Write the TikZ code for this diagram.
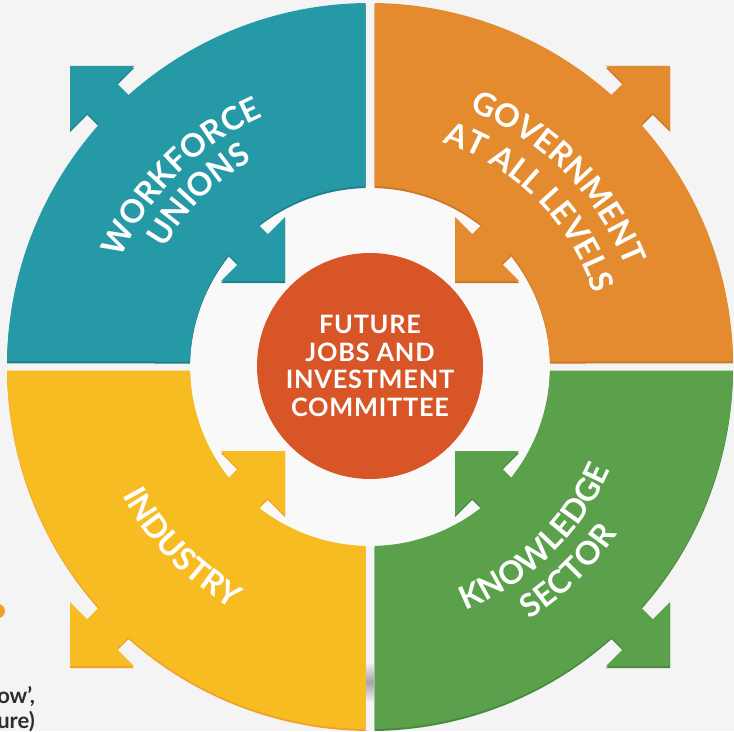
\documentclass[tikz,border=0pt]{standalone}
\usepackage{fontspec}
\setmainfont{Lato}
\usetikzlibrary{decorations.text}

\definecolor{pagegrey}{RGB}{244,244,244}
\definecolor{ringwhite}{RGB}{249,249,249}
\definecolor{unionteal}{RGB}{38,153,166}
\definecolor{unionedge}{RGB}{30,128,139}
\definecolor{govorange}{RGB}{227,139,46}
\definecolor{govedge}{RGB}{205,118,36}
\definecolor{industryyellow}{RGB}{248,188,35}
\definecolor{industryedge}{RGB}{242,160,38}
\definecolor{knowgreen}{RGB}{91,160,75}
\definecolor{knowedge}{RGB}{74,138,62}
\definecolor{hubred}{RGB}{215,85,39}
\definecolor{pagetext}{RGB}{45,45,45}
\definecolor{bulletorange}{RGB}{240,160,40}

\tikzset{
  quadrant/.style 2 args={fill=#1, preaction={fill=#2, transform canvas={yshift=-1.5pt}}},
  quadtext/.style={decorate, decoration={text along path, text align=center, text color=white}},
}

\begin{document}
\begin{tikzpicture}[x=0.75pt,y=0.75pt,yscale=-1,xscale=1]
\useasboundingbox (0,0) rectangle (734,731);
\clip (0,0) rectangle (734,731);
\fill [pagegrey] (0,0) rectangle (734,731);

%Shape: Circle [inner ring]
\fill [ringwhite] (370,366) circle (180);

%Shape: Quadrant [workforce unions]
\path [quadrant={unionteal}{unionedge}] (365.5,186.06) -- (365.5,3.03) arc[start angle=269.29, end angle=228.32, radius=363] -- (116.85,83.15) -- (134,66) -- (70,66) -- (70,130) -- (87.15,112.85) -- (98.9,124.6) arc[start angle=221.68, end angle=180.71, radius=363] -- (190.06,361.5) arc[start angle=181.43, end angle=218.3, radius=180] -- (238.15,263.85) -- (221,281) -- (285,281) -- (285,217) -- (267.85,234.15) -- (258.44,224.74) arc[start angle=231.7, end angle=268.57, radius=180] -- cycle ;
%Shape: Quadrant [government]
\path [quadrant={govorange}{govedge}] (374.5,186.06) -- (374.5,3.03) arc[start angle=-89.29, end angle=-48.32, radius=363] -- (623.15,83.15) -- (606,66) -- (670,66) -- (670,130) -- (652.85,112.85) -- (641.1,124.6) arc[start angle=-41.68, end angle=-0.71, radius=363] -- (549.94,361.5) arc[start angle=-1.43, end angle=-38.3, radius=180] -- (501.85,263.85) -- (519,281) -- (455,281) -- (455,217) -- (472.15,234.15) -- (481.56,224.74) arc[start angle=-51.7, end angle=-88.57, radius=180] -- cycle ;
%Shape: Quadrant [industry]
\path [quadrant={industryyellow}{industryedge}] (365.5,545.94) -- (365.5,728.97) arc[start angle=90.71, end angle=131.68, radius=363] -- (116.85,648.85) -- (134,666) -- (70,666) -- (70,602) -- (87.15,619.15) -- (98.9,607.4) arc[start angle=138.32, end angle=179.29, radius=363] -- (190.06,370.5) arc[start angle=178.57, end angle=141.7, radius=180] -- (238.15,468.15) -- (221,451) -- (285,451) -- (285,515) -- (267.85,497.85) -- (258.44,507.26) arc[start angle=128.3, end angle=91.43, radius=180] -- cycle ;
%Shape: Quadrant [knowledge sector]
\path [quadrant={knowgreen}{knowedge}] (374.5,545.94) -- (374.5,728.97) arc[start angle=89.29, end angle=48.32, radius=363] -- (623.15,648.85) -- (606,666) -- (670,666) -- (670,602) -- (652.85,619.15) -- (641.1,607.4) arc[start angle=41.68, end angle=0.71, radius=363] -- (549.94,370.5) arc[start angle=1.43, end angle=38.3, radius=180] -- (501.85,468.15) -- (519,451) -- (455,451) -- (455,515) -- (472.15,497.85) -- (481.56,507.26) arc[start angle=51.7, end angle=88.57, radius=180] -- cycle ;

%Shape: Rectangle [shadow in gap]
\shade [top color=pagegrey, bottom color=pagegrey, middle color=black!35] (366,662) rectangle (374,702) ;

% Text Node
\node (hub) [circle, fill=hubred, minimum size=169.5pt, inner sep=0pt, text=white, align=center, font=\bfseries\fontsize{19}{20.8}\selectfont\addfontfeatures{LetterSpace=3}] at (370,366) {FUTURE\\JOBS AND\\INVESTMENT\\COMMITTEE};

% Text Path
\path [quadtext, decoration={text={|\bfseries\fontsize{24}{28}\selectfont|WORKFORCE}}] (370,366) ++(180:271) arc[start angle=180, end angle=270, radius=271] ;
\path [quadtext, decoration={text={|\bfseries\fontsize{24}{28}\selectfont|UNIONS}}] (370,366) ++(180:237) arc[start angle=180, end angle=270, radius=237] ;
\path [quadtext, decoration={text={|\bfseries\fontsize{24}{28}\selectfont|GOVERNMENT}}] (370,366) ++(270:274) arc[start angle=270, end angle=360, radius=274] ;
\path [quadtext, decoration={text={|\bfseries\fontsize{24}{28}\selectfont|AT ALL LEVELS}}] (370,366) ++(270:235) arc[start angle=270, end angle=360, radius=235] ;
\path [quadtext, decoration={text={|\bfseries\fontsize{24}{28}\selectfont|INDUSTRY}}] (370,366) ++(181:279) arc[start angle=181, end angle=91, radius=279] ;
\path [quadtext, decoration={text={|\bfseries\fontsize{24}{28}\selectfont|KNOWLEDGE}}] (370,366) ++(91:262) arc[start angle=91, end angle=1, radius=262] ;
\path [quadtext, decoration={text={|\bfseries\fontsize{24}{28}\selectfont|SECTOR}}] (370,366) ++(91:299) arc[start angle=91, end angle=1, radius=299] ;

%Shape: Circle [page bullet]
\fill [bulletorange] (-2,611) circle (7) ;
% Text Node
\node (frag1) [anchor=base west, inner sep=0pt, text=pagetext, font=\bfseries\fontsize{16.5}{18}\selectfont] at (-3,703) {ow’,};
% Text Node
\node (frag2) [anchor=base west, inner sep=0pt, text=pagetext, font=\bfseries\fontsize{16.5}{18}\selectfont] at (-3,728) {ure)};

\end{tikzpicture}
\end{document}
